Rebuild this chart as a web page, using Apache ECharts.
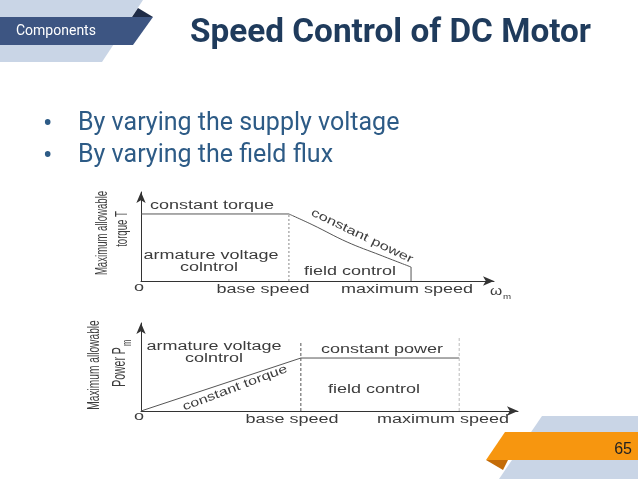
<!DOCTYPE html>
<html lang="en">
<head>
  <meta charset="UTF-8">
  <title>Speed Control of DC Motor</title>
  <style>
    html, body { margin: 0; padding: 0; background: #fff; }
    #chart { width: 638px; height: 479px; }
  </style>
</head>
<body>
  <div id="chart"></div>
  <script src="https://cdn.jsdelivr.net/npm/echarts@6/dist/echarts.min.js"></script>
  <script>
    // torque limit vs speed (top diagram)
    const torqueFlatSpeed = [0, 4.19]
    const torqueFlatLimit = [7.53, 7.53]
    const torqueCurveSpeed = [4.19, 4.87, 5.84, 6.77, 7.65]
    const torqueCurveLimit = [7.53, 6.29, 4.38, 2.92, 1.57]
    const torqueDropLine = [[7.65, 1.57], [7.65, 0]]
    const torqueBaseLine = [[4.19, 0], [4.19, 7.53]]

    // power limit vs speed (bottom diagram)
    const powerSpeed = [0, 4.24, 8.44]
    const powerLimit = [0, 6.02, 6.02]
    const powerBaseLine = [[4.24, 0], [4.24, 7.84]]
    const powerMaxLine = [[8.44, 0], [8.44, 8.3]]

    const speedTicks = ['o', 'base speed', 'maximum speed']
    const regionLabels = ['constant torque', 'armature voltage', 'colntrol', 'field control', 'constant power']
    const bullets = ['By varying the supply voltage', 'By varying the field flux']

    const ink = '#3c3c3c'
    const diaFont = 'Liberation Sans, Arial, sans-serif'

    function zip(xs, ys) {
      return xs.map((x, i) => [x, ys[i]])
    }

    // stretched diagram text (the original figure is widened)
    function dtext(text, x, y, opt) {
      opt = opt || {}
      return {
        type: 'text', x: x, y: y,
        rotation: opt.rot || 0,
        scaleX: opt.sx || 1.5, scaleY: opt.sy || 1,
        silent: true,
        style: {
          text: text, fill: opt.fill || ink,
          font: (opt.size || 12) + 'px ' + diaFont,
          align: opt.align || 'center', verticalAlign: 'middle',
          textAlign: opt.align || 'center', textVerticalAlign: 'middle'
        }
      }
    }
    function vtext(text, x, y, size) {
      return dtext(text, x, y, { rot: Math.PI / 2, sx: 1, sy: 1.7, size: size })
    }
    function stext(text, x, y, font, fill, align, sx) {
      return {
        type: 'text', x: x, y: y, scaleX: sx || 1, silent: true,
        style: { text: text, fill: fill, font: font, align: align, verticalAlign: 'middle', textAlign: align, textVerticalAlign: 'middle' }
      }
    }

    function axisPair(grid) {
      const line = { show: true, symbol: ['none', 'arrow'], symbolSize: [7, 11], lineStyle: { color: '#333', width: 1 } }
      const common = { type: 'value', gridIndex: grid, min: 0, max: 10, axisLine: line, axisTick: { show: false }, axisLabel: { show: false }, splitLine: { show: false } }
      return { x: Object.assign({}, common), y: Object.assign({}, common) }
    }
    const a0 = axisPair(0), a1 = axisPair(1)

    const solid = { color: '#555', width: 1 }
    const plain = { type: 'line', symbol: 'none', lineStyle: solid }

    const option = {
      animation: false,
      backgroundColor: '#fff',
      grid: [
        { left: 141, top: 192, width: 353, height: 89 },
        { left: 141, top: 323, width: 377, height: 88 }
      ],
      xAxis: [a0.x, a1.x],
      yAxis: [a0.y, a1.y],
      series: [
        Object.assign({}, plain, { xAxisIndex: 0, yAxisIndex: 0, data: zip(torqueFlatSpeed, torqueFlatLimit) }),
        Object.assign({}, plain, { xAxisIndex: 0, yAxisIndex: 0, data: zip(torqueCurveSpeed, torqueCurveLimit), smooth: 0.4 }),
        Object.assign({}, plain, { xAxisIndex: 0, yAxisIndex: 0, data: torqueDropLine }),
        { type: 'line', xAxisIndex: 0, yAxisIndex: 0, data: torqueBaseLine, symbol: 'none', lineStyle: { color: '#888', width: 1, type: [2, 2] } },
        Object.assign({}, plain, { xAxisIndex: 1, yAxisIndex: 1, data: zip(powerSpeed, powerLimit) }),
        { type: 'line', xAxisIndex: 1, yAxisIndex: 1, data: powerBaseLine, symbol: 'none', lineStyle: { color: '#555', width: 1, type: [3, 2] } },
        { type: 'line', xAxisIndex: 1, yAxisIndex: 1, data: powerMaxLine, symbol: 'none', lineStyle: { color: '#bbb', width: 1, type: [3, 2] } }
      ],
      graphic: [
        // slide decoration
        { type: 'polygon', silent: true, shape: { points: [[0, 0], [143, 0], [102, 62], [0, 62]] }, style: { fill: '#c9d5e6' } },
        { type: 'polygon', silent: true, shape: { points: [[0, 17], [153, 17], [133, 45], [0, 45]] }, style: { fill: '#3d5582' } },
        { type: 'polygon', silent: true, shape: { points: [[132, 17], [138, 8], [153, 17]] }, style: { fill: '#1f2c47' } },
        stext('Components', 16, 31, '14px Roboto, sans-serif', '#fff', 'left'),
        stext('Speed Control of DC Motor', 190, 33, 'bold 34px Roboto, sans-serif', '#1f3b5c', 'left', 0.98),

        { type: 'polygon', silent: true, shape: { points: [[542, 416], [638, 416], [638, 479], [499, 479]] }, style: { fill: '#c9d5e6' } },
        { type: 'polygon', silent: true, shape: { points: [[505, 432], [638, 432], [638, 460], [486, 460]] }, style: { fill: '#f7960f' } },
        { type: 'polygon', silent: true, shape: { points: [[486, 460], [503, 470], [508, 460]] }, style: { fill: '#c46c08' } },
        stext('65', 632, 450, '16px Liberation Sans, Arial, sans-serif', '#222', 'right'),

        // bullets
        stext('\u2022', 43, 125, '28px Roboto, sans-serif', '#2d5b86', 'left'),
        stext(bullets[0], 78, 124, '25px Roboto, sans-serif', '#2d5b86', 'left'),
        stext('\u2022', 43, 157, '28px Roboto, sans-serif', '#2d5b86', 'left'),
        stext(bullets[1], 78, 156, '25px Roboto, sans-serif', '#2d5b86', 'left'),

        // top diagram text
        dtext(regionLabels[0], 212, 206),
        dtext(regionLabels[1], 211, 256),
        dtext(regionLabels[2], 209, 268),
        dtext(regionLabels[3], 350, 272),
        dtext(regionLabels[4], 362, 236, { rot: -0.447, sx: 1.37 }),
        dtext(speedTicks[0], 139, 288),
        dtext(speedTicks[1], 263, 290),
        dtext(speedTicks[2], 407, 290),
        dtext('\u03c9', 496, 292, { sx: 1.3 }),
        dtext('m', 507, 297, { size: 7.5, sx: 1.3 }),
        vtext('Maximum allowable', 102, 233, 9.6),
        vtext('torque T', 122, 229, 9.6),

        // bottom diagram text
        dtext(regionLabels[1], 214, 347),
        dtext(regionLabels[2], 214, 359),
        dtext(regionLabels[4], 382, 350),
        dtext(regionLabels[3], 374, 390),
        dtext(regionLabels[0], 235, 388, { rot: 0.36, sx: 1.34 }),
        dtext(speedTicks[0], 139, 417),
        dtext(speedTicks[1], 292, 420),
        dtext(speedTicks[2], 443, 420),
        vtext('Maximum allowable', 94, 365, 10.2),
        vtext('Power P', 120, 367, 10.5),
        vtext('m', 127, 343, 7.5)
      ]
    }

    const chart = echarts.init(document.getElementById('chart'))
    chart.setOption(option)
  </script>
</body>
</html>
